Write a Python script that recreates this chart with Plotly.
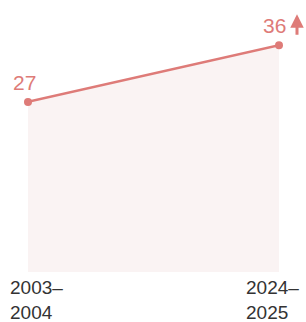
import plotly.graph_objects as go

periods = ["2003–<br>2004", "2024–<br>2025"]
values = [27, 36]
xpos = [0, 1]

LINE = "#de7b78"
FILL = "#faf3f3"
TEXT = "#333333"
FONT = "Liberation Sans"

fig = go.Figure()
fig.add_trace(go.Scatter(
    x=xpos, y=values, mode="lines+markers",
    line=dict(color=LINE, width=2.5),
    marker=dict(color=LINE, size=8),
    fill="tozeroy", fillcolor=FILL,
    cliponaxis=False,
    hoverinfo="skip",
))

ann = []
ann.append(dict(x=xpos[0], y=values[0], text=str(values[0]), showarrow=False,
                xanchor="left", yanchor="bottom", xshift=-17, yshift=6,
                font=dict(size=21, color=LINE, family=FONT)))
ann.append(dict(x=xpos[1], y=values[1], text=str(values[1]), showarrow=False,
                xanchor="right", yanchor="bottom", xshift=9, yshift=6,
                font=dict(size=21, color=LINE, family=FONT)))
ann.append(dict(x=xpos[1], y=values[1], text="", showarrow=True,
                xshift=18, yshift=31, ax=0, ay=22, arrowhead=2, arrowsize=0.9,
                arrowwidth=3, arrowcolor=LINE))
ann.append(dict(x=xpos[0], y=0, text=periods[0], showarrow=False, align="left",
                xanchor="left", yanchor="top", xshift=-20, yshift=-3,
                font=dict(size=19, color=TEXT, family=FONT)))
ann.append(dict(x=xpos[1], y=0, text=periods[1], showarrow=False, align="left",
                xanchor="right", yanchor="top", xshift=22, yshift=-3,
                font=dict(size=19, color=TEXT, family=FONT)))

fig.update_layout(
    width=306, height=322,
    margin=dict(l=28, r=27, t=20, b=50),
    paper_bgcolor="white", plot_bgcolor="white",
    showlegend=False,
    xaxis=dict(range=[0, 1], visible=False, fixedrange=True),
    yaxis=dict(range=[0, 40], visible=False, fixedrange=True),
    annotations=ann,
)

fig.write_html("out.html", config={"displayModeBar": False},
               post_script="document.body.style.margin='0';document.documentElement.style.overflow='hidden';")
